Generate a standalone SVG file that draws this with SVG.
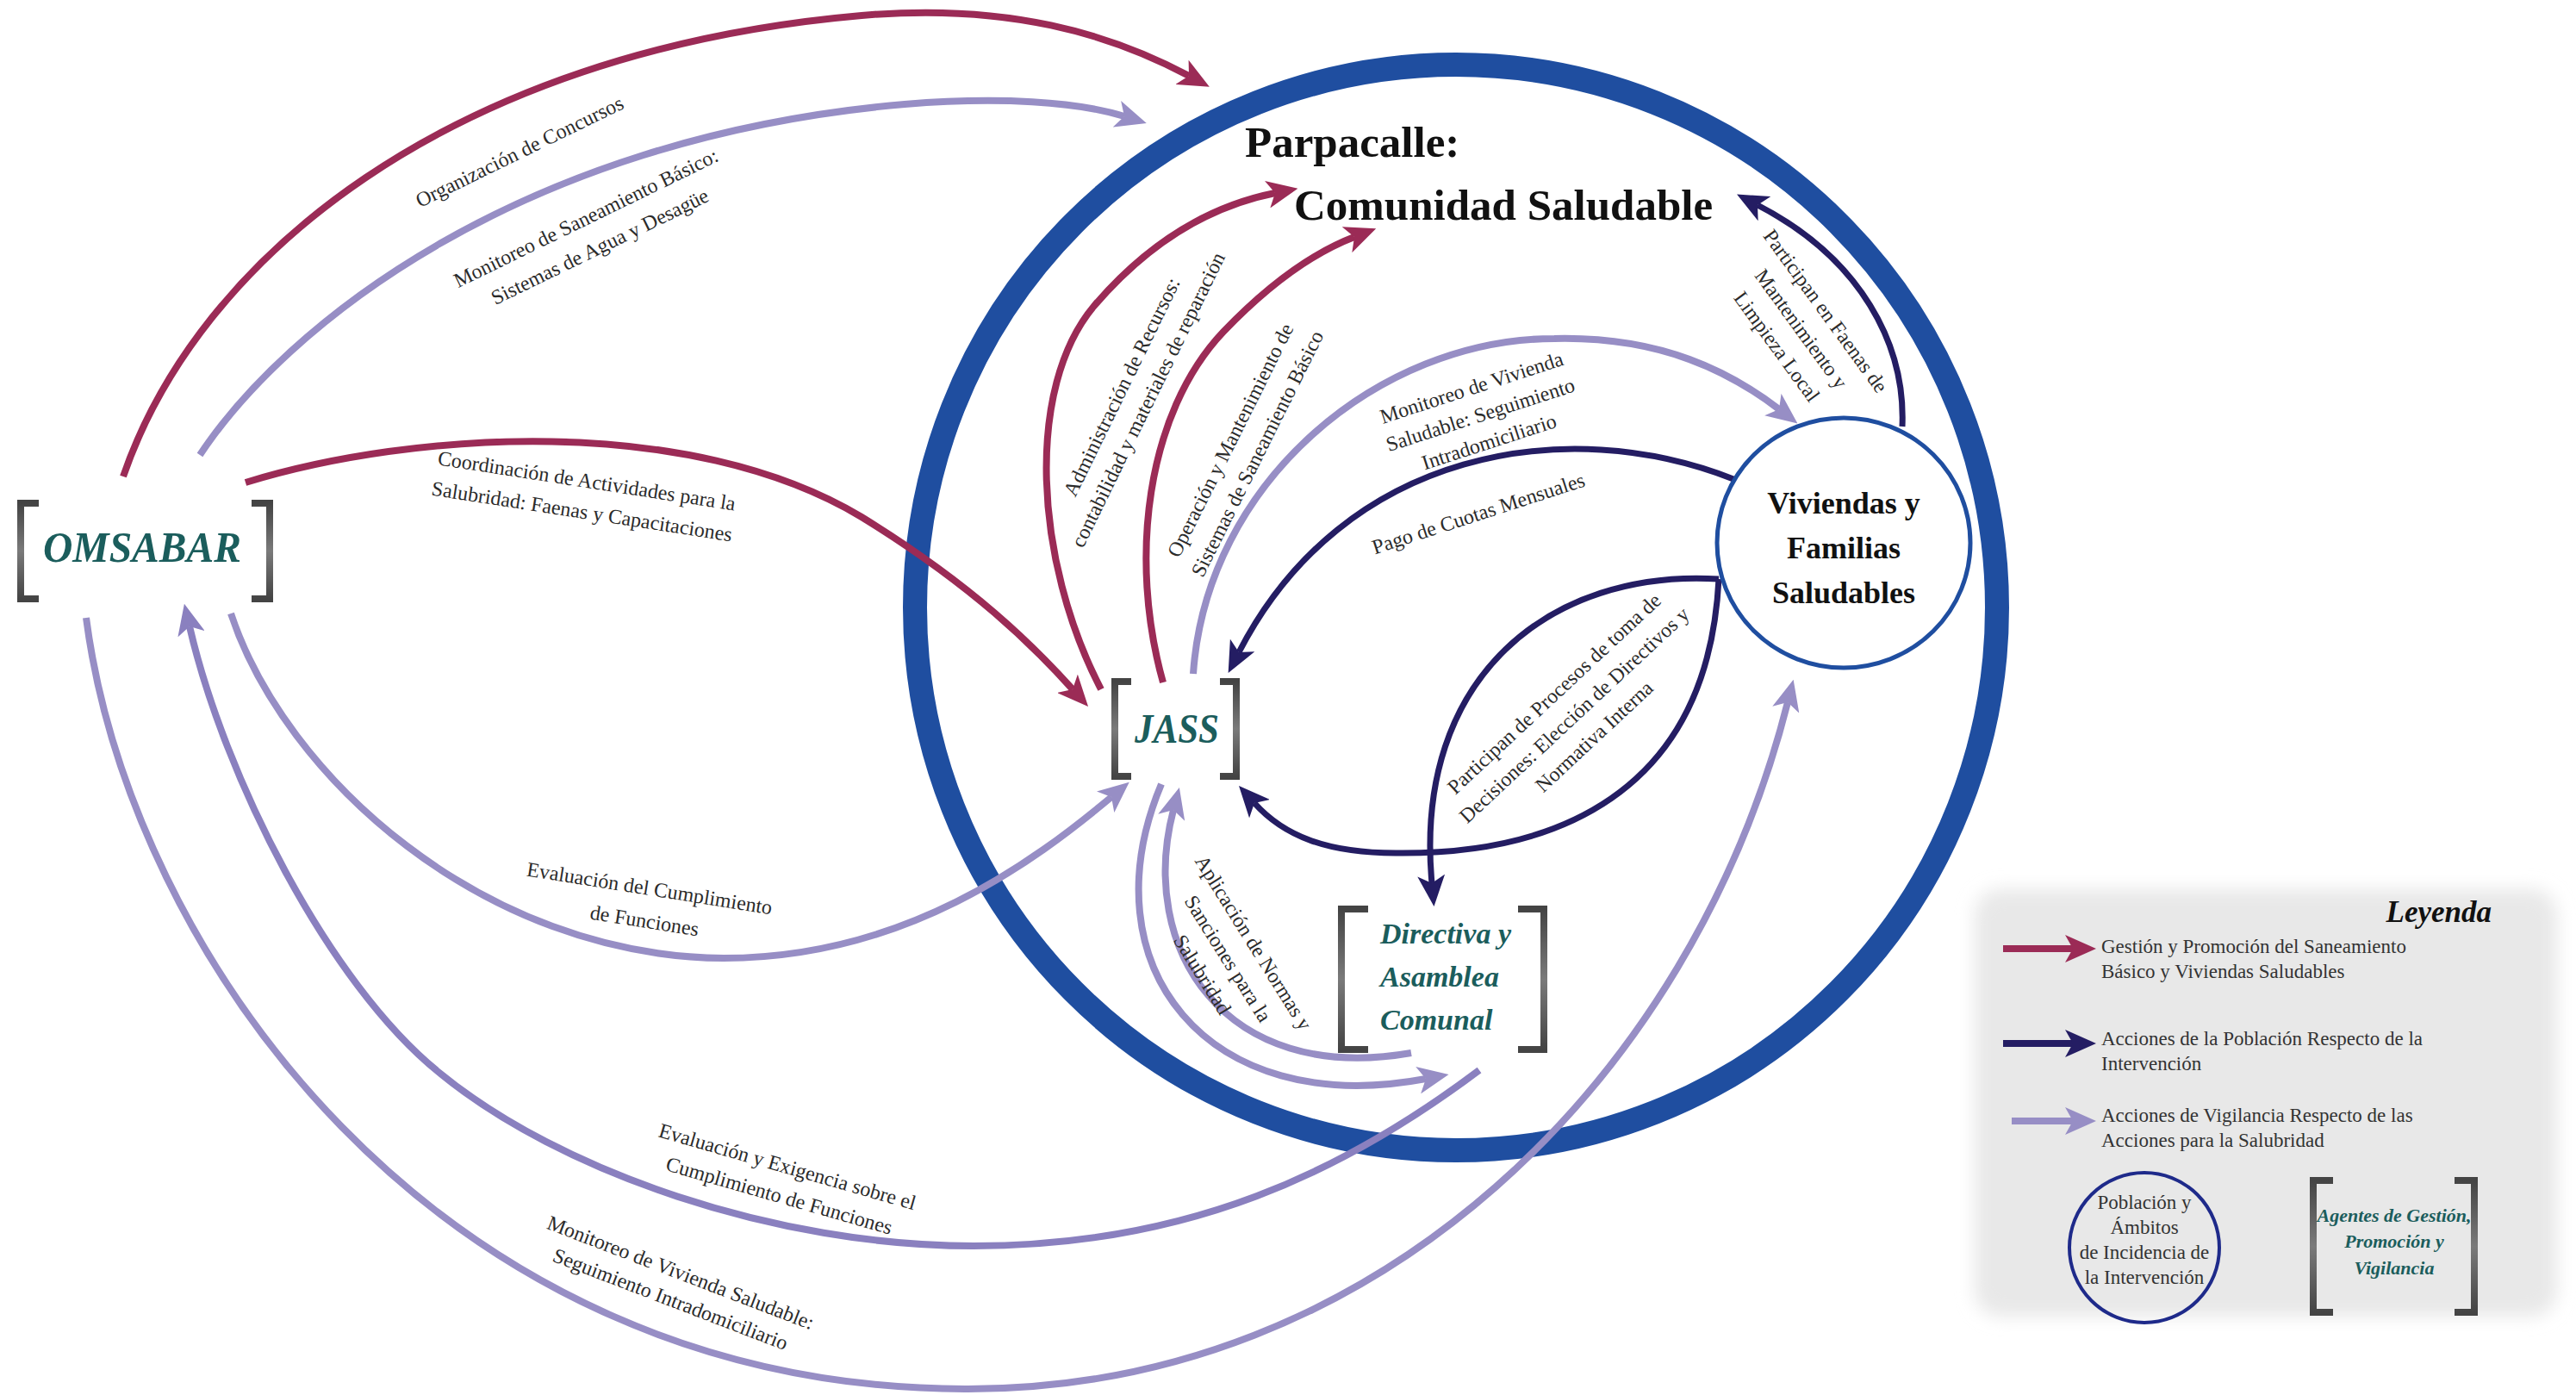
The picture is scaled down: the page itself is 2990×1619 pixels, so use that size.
<svg xmlns="http://www.w3.org/2000/svg" width="2990" height="1619" viewBox="0 0 2990 1619">
<defs>
<style>
.lbl{font-family:"Liberation Serif","DejaVu Serif",serif;font-size:24px;fill:#2b2b2b}
.lgt{font-family:"Liberation Serif","DejaVu Serif",serif;font-size:23px;fill:#333}
.nt{font-family:"Liberation Serif","DejaVu Serif",serif;font-weight:bold;font-style:italic;fill:#1b5d5c}
.ttl{font-family:"Liberation Serif","DejaVu Serif",serif;font-weight:bold;fill:#111}
.brk{fill:none;stroke:url(#gbrk);stroke-width:8}
.crim{fill:none;stroke:#9b2b56;stroke-width:8;marker-end:url(#ah-crim)}
.lil{fill:none;stroke:#978ec5;stroke-width:8;marker-end:url(#ah-lil)}
.lil2{fill:none;stroke:#8a80bf;stroke-width:8;marker-end:url(#ah-lil2)}
.nav{fill:none;stroke:#241d63;stroke-width:7;marker-end:url(#ah-nav)}
</style>
<linearGradient id="gbrk" x1="0" y1="0" x2="0" y2="1">
<stop offset="0" stop-color="#444"/><stop offset="0.5" stop-color="#7a7a7a"/><stop offset="1" stop-color="#444"/>
</linearGradient>
<marker id="ah-crim" viewBox="0 0 36 32" refX="9" refY="16" markerWidth="36" markerHeight="32" markerUnits="userSpaceOnUse" orient="auto"><path d="M0,0 L36,16 L0,32 L9,16 Z" fill="#9b2b56"/></marker>
<marker id="ah-lil" viewBox="0 0 36 32" refX="9" refY="16" markerWidth="36" markerHeight="32" markerUnits="userSpaceOnUse" orient="auto"><path d="M0,0 L36,16 L0,32 L9,16 Z" fill="#978ec5"/></marker>
<marker id="ah-lil2" viewBox="0 0 36 32" refX="9" refY="16" markerWidth="36" markerHeight="32" markerUnits="userSpaceOnUse" orient="auto"><path d="M0,0 L36,16 L0,32 L9,16 Z" fill="#8a80bf"/></marker>
<marker id="ah-nav" viewBox="0 0 36 32" refX="9" refY="16" markerWidth="36" markerHeight="32" markerUnits="userSpaceOnUse" orient="auto"><path d="M0,0 L36,16 L0,32 L9,16 Z" fill="#241d63"/></marker>
<filter id="soft" x="-10%" y="-10%" width="120%" height="120%"><feGaussianBlur stdDeviation="10"/></filter>
</defs>
<rect x="0" y="0" width="2990" height="1619" fill="#ffffff"/>

<g id="legend">
<rect x="2292" y="1032" width="676" height="496" rx="30" fill="#e8e8e8" filter="url(#soft)"/>
<text class="ttl" x="2892" y="1070" text-anchor="end" font-size="35" font-style="italic">Leyenda</text>
<path d="M2325,1101 H2406" fill="none" stroke="#9b2b56" stroke-width="8" marker-end="url(#ah-crim)"/>
<text class="lgt" x="2439"><tspan x="2439" y="1106">Gestión y Promoción del Saneamiento</tspan><tspan x="2439" y="1135">Básico y Viviendas Saludables</tspan></text>
<path d="M2325,1211 H2406" fill="none" stroke="#241d63" stroke-width="8" marker-end="url(#ah-nav)"/>
<text class="lgt" x="2439"><tspan x="2439" y="1213">Acciones de la Población Respecto de la</tspan><tspan x="2439" y="1242">Intervención</tspan></text>
<path d="M2335,1301 H2406" fill="none" stroke="#978ec5" stroke-width="8" marker-end="url(#ah-lil)"/>
<text class="lgt" x="2439"><tspan x="2439" y="1302">Acciones de Vigilancia Respecto de las</tspan><tspan x="2439" y="1331">Acciones para la Salubridad</tspan></text>
<ellipse cx="2489" cy="1448" rx="87" ry="87" fill="none" stroke="#1e2a8a" stroke-width="4"/>
<text class="lgt" font-size="21" text-anchor="middle"><tspan x="2489" y="1403">Población y</tspan><tspan x="2489" y="1432">Ámbitos</tspan><tspan x="2489" y="1461">de Incidencia de</tspan><tspan x="2489" y="1490">la Intervención</tspan></text>
<path class="brk" stroke-width="10" d="M2708,1370 H2685 V1523 H2708"/>
<path class="brk" stroke-width="10" d="M2849,1370 H2872 V1523 H2849"/>
<text class="nt" font-size="22" text-anchor="middle"><tspan x="2779" y="1418">Agentes de Gestión,</tspan><tspan x="2779" y="1448">Promoción y</tspan><tspan x="2779" y="1479">Vigilancia</tspan></text>
</g>

<g id="node-parpacalle">
<ellipse cx="1690" cy="705" rx="628" ry="630" fill="none" stroke="#1f4ea0" stroke-width="28"/>
<text class="ttl" x="1445" y="182" font-size="51">Parpacalle:</text>
<text class="ttl" x="1502" y="255" font-size="51">Comunidad Saludable</text>
</g>

<g id="connectors">
<path id="c-organizacion" class="crim" d="M143,553 C230,300 520,60 1000,18 C1170,3 1290,40 1380,88"/>
<path id="c-monitoreo-saneamiento" class="lil" d="M232,528 C330,380 600,160 1050,121 C1160,112 1250,118 1305,135"/>
<path id="c-coordinacion" class="crim" d="M285,560 C480,500 800,480 1000,600 C1130,680 1200,750 1245,800"/>
<path id="c-evaluacion" class="lil" d="M268,712 C330,900 560,1110 840,1112 C1050,1112 1200,1000 1290,925"/>
<path id="c-exigencia" class="lil2" d="M1717,1242 C1560,1360 1380,1446 1130,1446 C900,1446 650,1360 510,1245 C380,1140 260,900 220,727"/>
<path id="c-monitoreo-vivienda-ext" class="lil" d="M100,717 C150,1100 500,1610 1120,1612 C1600,1614 1965,1250 2075,815"/>
<path id="c-administracion" class="crim" d="M1278,800 C1200,650 1190,450 1270,355 C1330,285 1400,240 1480,224"/>
<path id="c-operacion" class="crim" d="M1350,792 C1310,650 1330,480 1420,385 C1470,333 1520,295 1572,275"/>
<path id="c-monitoreo-vivienda-int" class="lil" d="M1385,782 C1400,560 1600,393 1804,393 C1930,390 2010,433 2065,475"/>
<path id="c-pago" class="nav" d="M2012,556 C1820,480 1560,520 1438,757"/>
<path id="c-faenas" class="nav" d="M2208,495 C2212,400 2160,300 2040,238"/>
<path id="c-decisiones-directiva" class="nav" d="M1995,672 C1800,660 1640,785 1662,1025"/>
<path id="c-decisiones-jass" class="nav" d="M1995,672 C1982,925 1800,992 1620,990 C1540,990 1490,970 1456,932"/>
<path id="c-normas-a" class="lil" d="M1348,910 C1260,1120 1400,1300 1655,1252"/>
<path id="c-normas-b" class="lil" d="M1638,1222 C1420,1260 1320,1100 1362,940"/>

<text class="lbl" font-size="25" text-anchor="middle" transform="translate(603,176) rotate(-26)"><tspan x="0" y="8">Organización de Concursos</tspan></text>
<text class="lbl" text-anchor="middle" transform="translate(680,253) rotate(-26)"><tspan x="0" y="8">Monitoreo de Saneamiento Básico:</tspan><tspan x="0" y="45">Sistemas de Agua y Desagüe</tspan></text>
<text class="lbl" font-size="25" text-anchor="middle" transform="translate(681,558) rotate(8.8)"><tspan x="0" y="8">Coordinación de Actividades para la</tspan><tspan x="0" y="44">Salubridad: Faenas y Capacitaciones</tspan></text>
<text class="lbl" text-anchor="middle" transform="translate(754,1031) rotate(9)"><tspan x="0" y="8">Evaluación del Cumplimiento</tspan><tspan x="0" y="46">de Funciones</tspan></text>
<text class="lbl" text-anchor="middle" transform="translate(914,1354) rotate(16)"><tspan x="0" y="8">Evaluación y Exigencia sobre el</tspan><tspan x="0" y="43">Cumplimiento de Funciones</tspan></text>
<text class="lbl" text-anchor="middle" transform="translate(790,1477) rotate(21)"><tspan x="0" y="8">Monitoreo de Vivienda Saludable:</tspan><tspan x="0" y="41">Seguimiento Intradomiciliario</tspan></text>
<text class="lbl" text-anchor="middle" transform="translate(1302,449) rotate(-64)"><tspan x="0" y="8">Administración de Recursos:</tspan><tspan x="0" y="42">contabilidad y materiales de reparación</tspan></text>
<text class="lbl" text-anchor="middle" transform="translate(1428,511) rotate(-63.5)"><tspan x="0" y="8">Operación y Mantenimiento de</tspan><tspan x="0" y="43">Sistemas de Saneamiento Básico</tspan></text>
<text class="lbl" text-anchor="middle" transform="translate(1708,450) rotate(-18)"><tspan x="0" y="8">Monitoreo de Vivienda</tspan><tspan x="0" y="41">Saludable: Seguimiento</tspan><tspan x="0" y="74">Intradomiciliario</tspan></text>
<text class="lbl" text-anchor="middle" transform="translate(1716,596) rotate(-18)"><tspan x="0" y="8">Pago de Cuotas Mensuales</tspan></text>
<text class="lbl" text-anchor="middle" transform="translate(2119,361) rotate(54)"><tspan x="0" y="8">Participan en Faenas de</tspan><tspan x="0" y="43">Mantenimiento y</tspan><tspan x="0" y="78">Limpieza Local</tspan></text>
<text class="lbl" text-anchor="middle" transform="translate(1804,805) rotate(-43)"><tspan x="0" y="8">Participan de Procesos de toma de</tspan><tspan x="0" y="42">Decisiones: Elección de Directivos y</tspan><tspan x="0" y="76">Normativa Interna</tspan></text>
<text class="lbl" text-anchor="middle" transform="translate(1455,1094) rotate(58)"><tspan x="0" y="8">Aplicación de Normas y</tspan><tspan x="0" y="43">Sanciones para la</tspan><tspan x="0" y="78">Salubridad</tspan></text>
</g>

<g id="node-omsabar">
<path class="brk" d="M45,584 H24 V695 H45"/>
<path class="brk" d="M292,584 H313 V695 H292"/>
<text class="nt" x="165" y="652" font-size="50" text-anchor="middle" textLength="230" lengthAdjust="spacingAndGlyphs">OMSABAR</text>
</g>

<g id="node-jass">
<path class="brk" d="M1313,791 H1294 V901 H1313"/>
<path class="brk" d="M1416,791 H1435 V901 H1416"/>
<text class="nt" x="1366" y="862" font-size="48" text-anchor="middle" textLength="98" lengthAdjust="spacingAndGlyphs">JASS</text>
</g>

<g id="node-directiva">
<path class="brk" stroke-width="10" d="M1588,1055 H1557 V1218 H1588"/>
<path class="brk" stroke-width="10" d="M1762,1055 H1792 V1218 H1762"/>
<text class="nt" font-size="34"><tspan x="1602" y="1095">Directiva y</tspan><tspan x="1602" y="1145">Asamblea</tspan><tspan x="1602" y="1195">Comunal</tspan></text>
</g>

<g id="node-viviendas">
<ellipse cx="2140" cy="630" rx="147" ry="145" fill="#ffffff" stroke="#1f4ea0" stroke-width="5"/>
<text class="ttl" font-size="36" text-anchor="middle"><tspan x="2140" y="596">Viviendas y</tspan><tspan x="2140" y="648">Familias</tspan><tspan x="2140" y="700">Saludables</tspan></text>
</g>
</svg>
